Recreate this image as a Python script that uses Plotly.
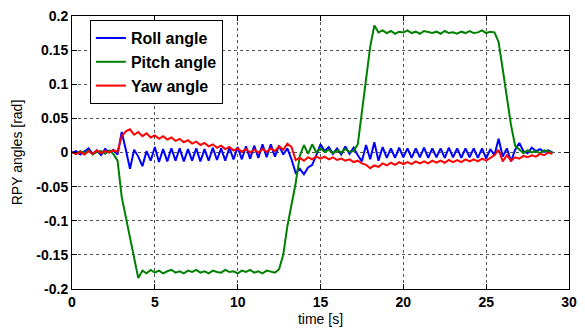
import numpy as np
import plotly.graph_objects as go

# time base: uniform sampling, 0.25 s
dt = 0.25
n_samples = 117

roll = [
    0.000, 0.002, -0.003, 0.001,
    0.006, -0.002, 0.003, -0.004,
    0.005, 0.000, 0.004, -0.003,
    0.030, 0.004, -0.024, 0.004,
    -0.006, -0.020, 0.002, -0.012,
    0.008, -0.014, 0.005, -0.013,
    0.006, -0.012, 0.006, -0.013,
    0.005, -0.012, 0.006, -0.013,
    0.005, -0.012, 0.007, -0.011,
    0.006, -0.012, 0.007, -0.010,
    0.008, -0.010, 0.009, -0.009,
    0.010, -0.008, 0.012, -0.007,
    0.012, -0.006, 0.010, -0.003,
    0.006, -0.010, -0.030, -0.024,
    -0.032, -0.022, -0.018, -0.004,
    0.012, 0.002, 0.008, -0.002,
    0.006, -0.003, 0.009, -0.002,
    0.007, -0.004, -0.013, 0.011,
    -0.010, 0.015, -0.012, 0.008,
    -0.008, 0.006, -0.008, 0.007,
    -0.007, 0.006, -0.008, 0.006,
    -0.007, 0.007, -0.008, 0.006,
    -0.007, 0.006, -0.008, 0.007,
    -0.007, 0.006, -0.008, 0.006,
    -0.007, 0.006, -0.008, 0.006,
    -0.009, 0.005, -0.004, 0.020,
    -0.006, 0.006, -0.013, 0.004,
    0.014, 0.002, -0.001, 0.007,
    0.002, 0.005, 0.001, 0.003,
    0.000,
]

pitch = [
    0.000, -0.002, 0.002, -0.001,
    0.003, -0.003, 0.001, 0.002,
    -0.002, 0.003, -0.002, -0.012,
    -0.065, -0.095, -0.125, -0.158,
    -0.184, -0.173, -0.177, -0.172,
    -0.176, -0.173, -0.177, -0.174,
    -0.172, -0.176, -0.174, -0.177,
    -0.173, -0.175, -0.172, -0.176,
    -0.174, -0.177, -0.173, -0.175,
    -0.176, -0.172, -0.175, -0.174,
    -0.177, -0.173, -0.175, -0.172,
    -0.176, -0.174, -0.177, -0.173,
    -0.175, -0.176, -0.171, -0.150,
    -0.108, -0.078, -0.045, -0.005,
    0.011, -0.002, 0.012, 0.000,
    0.006, 0.001, 0.004, -0.001,
    0.003, 0.000, 0.005, 0.001,
    0.002, 0.012, 0.058, 0.105,
    0.155, 0.186, 0.176, 0.179,
    0.175, 0.178, 0.174, 0.177,
    0.176, 0.179, 0.175, 0.177,
    0.174, 0.178, 0.176, 0.175,
    0.177, 0.174, 0.178, 0.175,
    0.176, 0.174, 0.177, 0.175,
    0.178, 0.175, 0.176, 0.179,
    0.175, 0.177, 0.176, 0.162,
    0.122, 0.078, 0.040, 0.010,
    0.004, -0.001, 0.003, 0.000,
    0.002, -0.001, 0.003, 0.001,
    0.000,
]

yaw = [
    0.000, -0.002, 0.001, -0.003,
    0.002, -0.002, 0.003, -0.001,
    0.002, 0.000, 0.003, 0.001,
    0.024, 0.031, 0.034, 0.026,
    0.030, 0.024, 0.028, 0.022,
    0.025, 0.020, 0.024, 0.019,
    0.022, 0.017, 0.020, 0.015,
    0.018, 0.013, 0.016, 0.011,
    0.014, 0.009, 0.012, 0.007,
    0.010, 0.005, 0.008, 0.003,
    0.006, 0.001, 0.005, 0.000,
    0.004, 0.000, 0.005, 0.001,
    0.006, 0.002, 0.009, 0.004,
    0.013, 0.008, -0.011, -0.008,
    -0.012, -0.007, -0.010, -0.006,
    -0.009, -0.006, -0.010, -0.007,
    -0.011, -0.009, -0.012, -0.010,
    -0.014, -0.012, -0.016, -0.018,
    -0.023, -0.019, -0.021, -0.016,
    -0.019, -0.015, -0.018, -0.014,
    -0.017, -0.014, -0.017, -0.013,
    -0.016, -0.013, -0.016, -0.012,
    -0.015, -0.012, -0.015, -0.011,
    -0.014, -0.011, -0.014, -0.010,
    -0.013, -0.010, -0.013, -0.009,
    -0.012, -0.008, -0.004, 0.004,
    -0.013, -0.004, -0.012, -0.007,
    -0.009, -0.005, -0.007, -0.004,
    -0.006, -0.002, -0.004, 0.000,
    -0.002,
]

time = np.arange(n_samples) * dt

x_ticks = [0, 5, 10, 15, 20, 25, 30]
x_ticklabels = ["0", "5", "10", "15", "20", "25", "30"]
y_ticks = [-0.2, -0.15, -0.1, -0.05, 0, 0.05, 0.1, 0.15, 0.2]
y_ticklabels = ["-0.2", "-0.15", "-0.1", "-0.05", "0", "0.05", "0.1", "0.15", "0.2"]

series = [
    ("Roll angle", roll, "#0000FF"),
    ("Pitch angle", pitch, "#008000"),
    ("Yaw angle", yaw, "#FF0000"),
]

FONT = "Liberation Sans, Arial, sans-serif"

fig = go.Figure()
for name, vals, col in series:
    fig.add_trace(go.Scatter(x=time, y=vals, mode="lines", name=name,
                             line=dict(color=col, width=2)))

axis_common = dict(
    showline=True, linecolor="#000000", linewidth=1, mirror="ticks",
    ticks="inside", ticklen=5, tickcolor="#000000",
    showgrid=True, gridcolor="#555555", griddash="dot", gridwidth=1,
    zeroline=False,
    tickfont=dict(family=FONT, size=14, color="#000000", weight="bold"),
)

fig.update_xaxes(range=[0, 30], tickvals=x_ticks, ticktext=x_ticklabels,
                 title=dict(text="time [s]", standoff=5,
                            font=dict(family=FONT, size=14, color="#000000")),
                 **axis_common)
fig.update_yaxes(range=[-0.2, 0.2], tickvals=y_ticks, ticktext=y_ticklabels,
                 title=dict(text="RPY angles [rad]", standoff=10,
                            font=dict(family=FONT, size=14, color="#000000")),
                 **axis_common)

fig.update_layout(
    width=585, height=333,
    margin=dict(l=72, r=8, t=11, b=42),
    paper_bgcolor="#FFFFFF", plot_bgcolor="#FFFFFF",
    showlegend=True,
    legend=dict(x=0.036, y=0.985, xanchor="left", yanchor="top",
                bordercolor="#000000", borderwidth=1, bgcolor="#FFFFFF",
                font=dict(family=FONT, size=16, color="#000000", weight="bold"),
                tracegroupgap=0, itemwidth=30),
)

fig.write_html("out.html")
